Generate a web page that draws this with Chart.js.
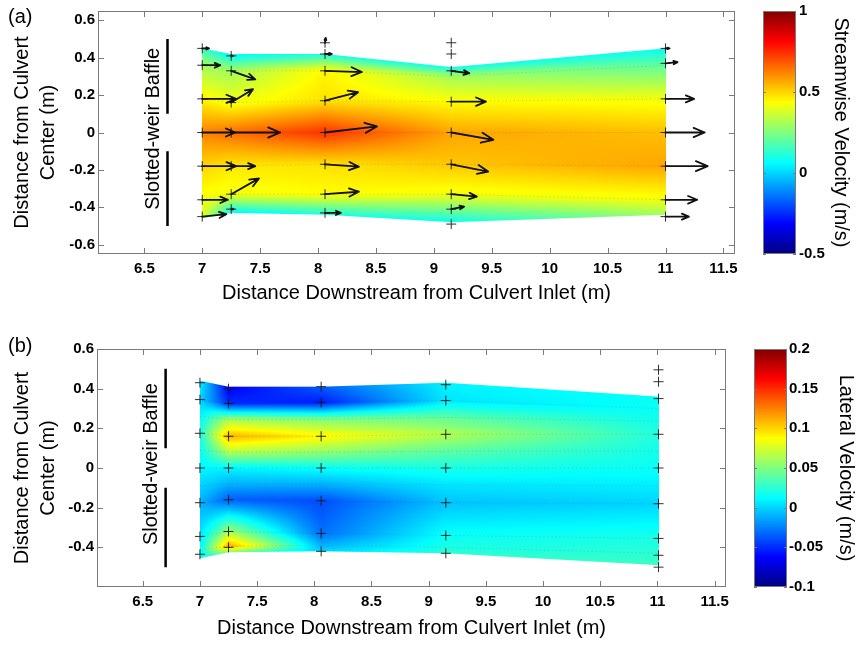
<!DOCTYPE html>
<html>
<head>
<meta charset="utf-8">
<script src="https://cdn.jsdelivr.net/npm/chart.js@4.4.1/dist/chart.umd.min.js"></script>
<style>
  body { margin: 0; background: #fff; }
  .panel { position: absolute; left: 0; width: 862px; }
</style>
</head>
<body>
<div class="panel" style="top:0;height:310px"><canvas id="chart-a" width="862" height="310"></canvas></div>
<div class="panel" style="top:330px;height:315px"><canvas id="chart-b" width="862" height="315"></canvas></div>
<script>
// === DATA ===
const xTicks = [6.5, 7, 7.5, 8, 8.5, 9, 9.5, 10, 10.5, 11, 11.5];
const yTicksA = [-0.6, -0.4, -0.2, 0, 0.2, 0.4, 0.6];
const yTicksB = [-0.4, -0.2, 0, 0.2, 0.4, 0.6];
const cbTicksA = [-0.5, 0, 0.5, 1];
const cbTicksB = [-0.1, -0.05, 0, 0.05, 0.1, 0.15, 0.2];

// measuring stations, downstream of the inlet (m)
const stationsA = [7.0, 7.25, 8.06, 9.15, 11.0];
// rows of the field at each station, top edge to bottom edge (m from centre)
const rowsA = [
    [0.45, 0.36, 0.18, 0, -0.18, -0.36, -0.46],
    [0.42, 0.33, 0.16, 0, -0.18, -0.33, -0.43],
    [0.42, 0.33, 0.17, 0, -0.17, -0.33, -0.44],
    [0.35, 0.30, 0.165, 0, -0.17, -0.33, -0.48],
    [0.45, 0.36, 0.18, 0, -0.18, -0.36, -0.44]
];
// streamwise velocity (m/s) on those rows
const streamwise = [
    [0.15, 0.30, 0.45, 0.62, 0.50, 0.42, 0.38],
    [0.05, 0.30, 0.42, 0.65, 0.47, 0.42, 0.05],
    [0.10, 0.45, 0.48, 0.74, 0.48, 0.44, 0.10],
    [0.08, 0.30, 0.44, 0.57, 0.52, 0.42, 0.08],
    [0.08, 0.20, 0.42, 0.53, 0.57, 0.42, 0.30]
];

// velocity vectors: start point and (u, v) in m/s
const vecX = [
    7.0, 7.0, 7.0, 7.0, 7.0, 7.0, 7.0,
    7.25, 7.25, 7.25, 7.25, 7.25, 7.25, 7.25,
    8.06, 8.06, 8.06, 8.06, 8.06, 8.06, 8.06, 8.06,
    9.15, 9.15, 9.15, 9.15, 9.15, 9.15, 9.15, 9.15, 9.15,
    11.0, 11.0, 11.0, 11.0, 11.0, 11.0, 11.0
];
const vecY = [
    0.45, 0.36, 0.18, 0, -0.18, -0.36, -0.45,
    0.41, 0.33, 0.16, 0, -0.18, -0.33, -0.41,
    0.48, 0.42, 0.33, 0.17, 0, -0.17, -0.33, -0.43,
    0.48, 0.42, 0.33, 0.165, 0, -0.17, -0.33, -0.41, -0.49,
    0.45, 0.37, 0.18, 0, -0.18, -0.36, -0.45
];
const vecU = [
    0.09, 0.24, 0.45, 0.44, 0.45, 0.34, 0.32,
    0.02, 0.32, 0.29, 0.65, 0.32, 0.37, 0.03,
    0.01, 0.09, 0.49, 0.44, 0.69, 0.45, 0.45, 0.21,
    0, 0, 0.24, 0.46, 0.56, 0.49, 0.34, 0.17, 0,
    0.05, 0.16, 0.38, 0.52, 0.56, 0.42, 0.31
];
const vecV = [
    0, 0, 0, 0, 0, 0, 0.02,
    0, -0.07, 0.11, 0, 0, 0.13, 0,
    0.04, 0, -0.01, 0.07, 0.05, -0.02, 0.02, 0,
    0, 0, -0.02, 0, -0.06, -0.06, -0.02, 0.02, 0,
    0, 0.01, 0, 0, 0, 0, 0
];

const stationsB = [7.0, 7.25, 8.06, 9.15, 11.01];
const rowsB = [
    [0.44, 0.345, 0.26, 0.175, 0.09, 0, -0.09, -0.175, -0.345, -0.41, -0.455],
    [0.41, 0.325, 0.245, 0.16, 0.08, 0, -0.08, -0.16, -0.32, -0.395, -0.425],
    [0.41, 0.33, 0.245, 0.16, 0.08, 0, -0.08, -0.165, -0.33, -0.39, -0.42],
    [0.43, 0.34, 0.255, 0.17, 0.085, 0, -0.085, -0.175, -0.34, -0.40, -0.43],
    [0.36, 0.30, 0.235, 0.17, 0.085, 0, -0.09, -0.18, -0.355, -0.43, -0.49]
];
// lateral velocity (m/s)
const lateral = [
    [0.01, 0.0, 0.01, 0.02, 0.015, 0.01, 0.0, -0.01, 0.005, 0.01, 0.01],
    [-0.065, -0.05, 0.06, 0.11, 0.065, 0.01, -0.01, -0.035, 0.06, 0.115, 0.05],
    [-0.035, -0.055, 0.05, 0.09, 0.055, 0.015, -0.01, -0.04, -0.03, -0.01, 0.0],
    [0.01, 0.005, 0.04, 0.065, 0.04, 0.02, 0.005, -0.005, 0.015, 0.02, 0.025],
    [0.015, 0.015, 0.018, 0.022, 0.018, 0.015, 0.008, 0.0, 0.02, 0.025, 0.03]
];
// probe positions
const probeXB = [
    7.0, 7.0, 7.0, 7.0, 7.0, 7.0, 7.0,
    7.25, 7.25, 7.25, 7.25, 7.25, 7.25, 7.25,
    8.06, 8.06, 8.06, 8.06, 8.06, 8.06, 8.06,
    9.15, 9.15, 9.15, 9.15, 9.15, 9.15, 9.15,
    11.01, 11.01, 11.01, 11.01, 11.01, 11.01, 11.01, 11.01, 11.01
];
const probeYB = [
    0.43, 0.345, 0.175, 0, -0.175, -0.345, -0.435,
    0.40, 0.325, 0.16, 0, -0.16, -0.32, -0.40,
    0.41, 0.33, 0.16, 0, -0.165, -0.33, -0.42,
    0.42, 0.34, 0.17, 0, -0.175, -0.34, -0.43,
    0.495, 0.435, 0.35, 0.17, 0, -0.18, -0.355, -0.44, -0.50
];

// === HELPERS ===
const FONT = "'Liberation Sans', Arial, sans-serif";
const FRAME = '#7a7a7a';
const ARROW_SCALE = 0.65; // metres of plot per m/s

function jet(t) {
    const c = v => Math.max(0, Math.min(1, v));
    return [
        c(1.5 - Math.abs(4 * t - 3)),
        c(1.5 - Math.abs(4 * t - 2)),
        c(1.5 - Math.abs(4 * t - 1))
    ].map(v => Math.round(v * 255));
}

// interpolated colour field between stations
function drawField(chart, stations, rows, vals, cmin, cmax) {
    const { ctx, scales: { x, y } } = chart;
    const px = stations.map(s => x.getPixelForValue(s));
    const py = rows.map(col => col.map(v => y.getPixelForValue(v)));
    const left = Math.floor(px[0]);
    const right = Math.ceil(px[px.length - 1]);
    let top = Infinity, bot = -Infinity;
    py.forEach(c => { top = Math.min(top, c[0]); bot = Math.max(bot, c[c.length - 1]); });
    top = Math.floor(top) - 1; bot = Math.ceil(bot) + 1;
    const w = right - left, h = bot - top;

    const off = document.createElement('canvas');
    off.width = w; off.height = h;
    const octx = off.getContext('2d');
    const img = octx.createImageData(w, h);

    for (let i = 0; i < w; i++) {
        const X = left + i + 0.5;
        if (X < px[0] || X > px[px.length - 1]) continue;
        let k = 0;
        while (k < px.length - 2 && X > px[k + 1]) k++;
        const t = (X - px[k]) / (px[k + 1] - px[k]);
        const ys = py[k].map((v, r) => v + (py[k + 1][r] - v) * t);
        const vs = vals[k].map((v, r) => v + (vals[k + 1][r] - v) * t);
        const last = ys.length - 1;
        for (let j = 0; j < h; j++) {
            const Y = top + j + 0.5;
            if (Y + 0.5 < ys[0] || Y - 0.5 > ys[last]) continue;
            const Yc = Math.max(ys[0], Math.min(ys[last], Y));
            let r = 0;
            while (r < last - 1 && Yc > ys[r + 1]) r++;
            const s = (Yc - ys[r]) / (ys[r + 1] - ys[r]);
            const val = vs[r] + (vs[r + 1] - vs[r]) * s;
            const [R, G, B] = jet((val - cmin) / (cmax - cmin));
            const cov = Math.min(1, Y + 0.5 - ys[0]) * Math.min(1, ys[last] - (Y - 0.5));
            const o = (j * w + i) * 4;
            img.data[o] = R; img.data[o + 1] = G; img.data[o + 2] = B;
            img.data[o + 3] = Math.round(255 * Math.max(0, Math.min(1, cov)));
        }
    }
    octx.putImageData(img, 0, 0);
    ctx.drawImage(off, left, top);

    // dotted mesh lines along interior rows
    ctx.save();
    ctx.setLineDash([1, 3]);
    ctx.strokeStyle = 'rgba(90, 90, 90, 0.3)';
    ctx.lineWidth = 1;
    for (let r = 1; r < rows[0].length - 1; r++) {
        ctx.beginPath();
        px.forEach((p, k) => k ? ctx.lineTo(p, py[k][r]) : ctx.moveTo(p, py[k][r]));
        ctx.stroke();
    }
    ctx.restore();
}

function drawColorbar(chart, cmin, cmax) {
    const { ctx, chartArea, scales: { cb } } = chart;
    const x0 = chartArea.right + 28, x1 = chartArea.right + 61;
    const yTop = cb.getPixelForValue(cmax), yBot = cb.getPixelForValue(cmin);
    for (let py = Math.floor(yTop); py < Math.ceil(yBot); py++) {
        const v = cb.getValueForPixel(py + 0.5);
        const [R, G, B] = jet((v - cmin) / (cmax - cmin));
        ctx.fillStyle = `rgb(${R},${G},${B})`;
        ctx.fillRect(x0, py, x1 - x0, 1);
    }
    ctx.save();
    ctx.strokeStyle = FRAME;
    ctx.lineWidth = 1;
    ctx.strokeRect(x0 + 0.5, Math.round(yTop) + 0.5, x1 - x0 - 1, Math.round(yBot - yTop) - 1);
    cb.ticks.forEach(t => {
        const p = Math.round(cb.getPixelForValue(t.value)) + 0.5;
        ctx.beginPath();
        ctx.moveTo(x0, p); ctx.lineTo(x0 + 3, p);
        ctx.moveTo(x1, p); ctx.lineTo(x1 - 3, p);
        ctx.stroke();
    });
    ctx.restore();
}

function drawFrame(chart) {
    const { ctx, chartArea: a, scales: { x, y } } = chart;
    ctx.save();
    ctx.strokeStyle = FRAME;
    ctx.lineWidth = 1;
    ctx.strokeRect(Math.round(a.left) + 0.5, Math.round(a.top) + 0.5,
        Math.round(a.right - a.left) - 1, Math.round(a.bottom - a.top) - 1);
    ctx.beginPath();
    x.ticks.forEach(t => {
        const p = Math.round(x.getPixelForValue(t.value)) + 0.5;
        ctx.moveTo(p, a.bottom); ctx.lineTo(p, a.bottom - 6);
        ctx.moveTo(p, a.top); ctx.lineTo(p, a.top + 6);
    });
    y.ticks.forEach(t => {
        const p = Math.round(y.getPixelForValue(t.value)) + 0.5;
        ctx.moveTo(a.left, p); ctx.lineTo(a.left + 6, p);
        ctx.moveTo(a.right, p); ctx.lineTo(a.right - 6, p);
    });
    ctx.stroke();
    ctx.restore();
}

// baffle position and its label
function drawBaffle(chart) {
    const { ctx, scales: { x, y } } = chart;
    const bx = x.getPixelForValue(6.7);
    ctx.save();
    ctx.strokeStyle = '#000';
    ctx.lineWidth = 2.5;
    ctx.beginPath();
    ctx.moveTo(bx, y.getPixelForValue(0.5)); ctx.lineTo(bx, y.getPixelForValue(0.1));
    ctx.moveTo(bx, y.getPixelForValue(-0.1)); ctx.lineTo(bx, y.getPixelForValue(-0.5));
    ctx.stroke();
    ctx.translate(x.getPixelForValue(6.575), y.getPixelForValue(0.02));
    ctx.rotate(-Math.PI / 2);
    ctx.fillStyle = '#000';
    ctx.font = `20px ${FONT}`;
    ctx.textAlign = 'center';
    ctx.textBaseline = 'middle';
    ctx.fillText('Slotted-weir Baffle', 0, 0);
    ctx.restore();
}

function drawArrows(chart) {
    const { ctx, scales: { x, y } } = chart;
    ctx.save();
    ctx.strokeStyle = '#111';
    ctx.lineWidth = 1.8;
    ctx.lineCap = 'round';
    vecX.forEach((sx, i) => {
        const u = vecU[i], v = vecV[i];
        if (!u && !v) return;
        const x0 = x.getPixelForValue(sx), y0 = y.getPixelForValue(vecY[i]);
        const x1 = x.getPixelForValue(sx + u * ARROW_SCALE);
        const y1 = y.getPixelForValue(vecY[i] + v * ARROW_SCALE);
        const len = Math.hypot(x1 - x0, y1 - y0);
        const ang = Math.atan2(y1 - y0, x1 - x0);
        const head = Math.min(13, 0.28 * len + 1);
        ctx.beginPath();
        ctx.moveTo(x0, y0); ctx.lineTo(x1, y1);
        [0.4, -0.4].forEach(d => {
            ctx.moveTo(x1, y1);
            ctx.lineTo(x1 - head * Math.cos(ang + d), y1 - head * Math.sin(ang + d));
        });
        ctx.stroke();
    });
    ctx.restore();
}

function makePanel(id, cfg) {
    const tickFont = { family: FONT, size: 15, weight: 'bold' };
    const titleFont = { family: FONT, size: 20, lineHeight: 1.3 };
    const fmt = v => String(+v.toFixed(3));
    // tick marks are drawn by the frame plugin; the invisible ones here only offset the labels
    const hiddenTicks = len => ({ drawOnChartArea: false, drawTicks: true, tickLength: len, tickColor: 'rgba(0,0,0,0)' });

    return new Chart(document.getElementById(id), {
        type: 'scatter',
        data: {
            datasets: [{
                data: cfg.probesX.map((px, i) => ({ x: px, y: cfg.probesY[i] })),
                pointStyle: 'cross',
                pointRadius: 5,
                borderWidth: 1,
                borderColor: 'rgba(25, 25, 25, 0.9)',
                backgroundColor: 'rgba(25, 25, 25, 0.9)'
            }]
        },
        options: {
            responsive: false,
            animation: false,
            events: [],
            layout: { padding: { top: cfg.padTop, left: 0, right: 0, bottom: 0 } },
            plugins: { legend: { display: false }, tooltip: { enabled: false } },
            scales: {
                x: {
                    type: 'linear', min: 6.1, max: 11.6,
                    afterBuildTicks: s => { s.ticks = xTicks.map(v => ({ value: v })); },
                    afterFit: s => { s.height = cfg.xHeight; },
                    grid: hiddenTicks(cfg.xTickPad),
                    border: { display: false },
                    ticks: { autoSkip: false, maxRotation: 0, padding: 0, color: '#000', font: tickFont, callback: fmt },
                    title: {
                        display: true, text: 'Distance Downstream from Culvert Inlet (m)',
                        color: '#000', font: titleFont, padding: { top: 0, bottom: 4 }
                    }
                },
                y: {
                    type: 'linear', position: 'left', min: cfg.yMin, max: cfg.yMax,
                    afterBuildTicks: s => { s.ticks = cfg.yTicks.map(v => ({ value: v })); },
                    afterFit: s => { s.width = cfg.yWidth; },
                    grid: hiddenTicks(3),
                    border: { display: false },
                    ticks: { autoSkip: false, padding: 0, color: '#000', font: tickFont, callback: fmt },
                    title: {
                        display: true, text: ['Distance from Culvert', 'Center (m)'],
                        color: '#000', font: titleFont, padding: { top: 9, bottom: 0 }
                    }
                },
                cb: {
                    type: 'linear', position: 'right', min: cfg.cmin, max: cfg.cmax,
                    afterBuildTicks: s => { s.ticks = cfg.cbTicks.map(v => ({ value: v })); },
                    afterFit: s => { s.width = cfg.cbWidth; },
                    grid: hiddenTicks(cfg.cbTickPad),
                    border: { display: false },
                    ticks: { autoSkip: false, padding: 0, color: '#000', font: tickFont, callback: fmt },
                    title: {
                        display: true, text: cfg.cbTitle,
                        color: '#000', font: titleFont, padding: { top: cfg.cbTitlePad, bottom: 0 }
                    }
                }
            }
        },
        plugins: [{
            id: 'fieldLayers',
            beforeDatasetsDraw(chart) {
                drawField(chart, cfg.stations, cfg.rows, cfg.values, cfg.cmin, cfg.cmax);
                drawColorbar(chart, cfg.cmin, cfg.cmax);
                drawBaffle(chart);
            },
            afterDatasetsDraw(chart) {
                if (cfg.arrows) drawArrows(chart);
                drawFrame(chart);
                const { ctx } = chart;
                ctx.save();
                ctx.fillStyle = '#000';
                ctx.font = `20px ${FONT}`;
                ctx.textBaseline = 'middle';
                ctx.fillText(cfg.tag, 8, cfg.tagY);
                ctx.restore();
            }
        }]
    });
}

makePanel('chart-a', {
    tag: '(a)', tagY: 17,
    padTop: 11, xHeight: 56, xTickPad: 6, yWidth: 98, cbWidth: 127, cbTickPad: 64, cbTitlePad: 8,
    yMin: -0.65, yMax: 0.65, yTicks: yTicksA,
    cmin: -0.5, cmax: 1, cbTicks: cbTicksA, cbTitle: 'Streamwise Velocity (m/s)',
    stations: stationsA, rows: rowsA, values: streamwise,
    probesX: vecX, probesY: vecY, arrows: true
});

makePanel('chart-b', {
    tag: '(b)', tagY: 16,
    padTop: 19, xHeight: 58, xTickPad: 6, yWidth: 97, cbWidth: 136, cbTickPad: 63, cbTitlePad: 3,
    yMin: -0.6, yMax: 0.6, yTicks: yTicksB,
    cmin: -0.1, cmax: 0.2, cbTicks: cbTicksB, cbTitle: 'Lateral Velocity (m/s)',
    stations: stationsB, rows: rowsB, values: lateral,
    probesX: probeXB, probesY: probeYB, arrows: false
});
</script>
</body>
</html>
